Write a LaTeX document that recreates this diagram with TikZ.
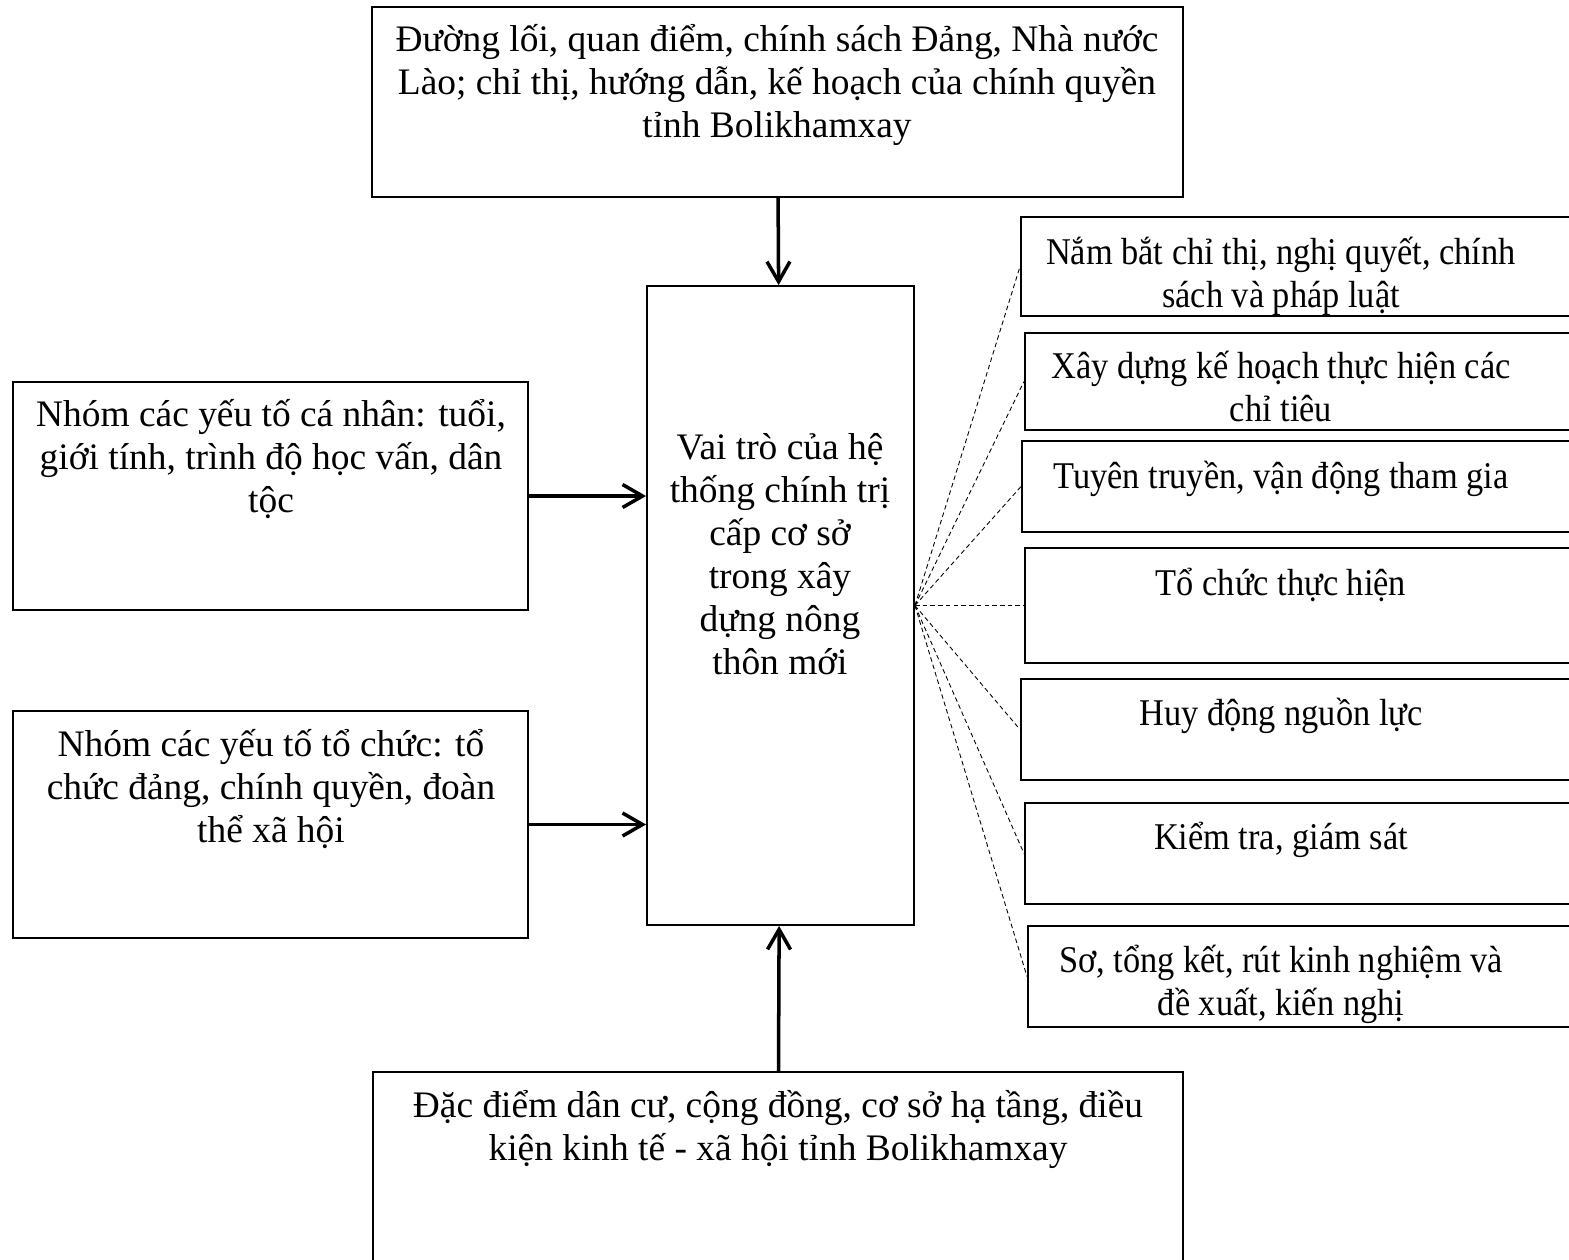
\documentclass[tikz,border=0pt]{standalone}
\usepackage{fontspec}
\setmainfont{Liberation Serif}
\usetikzlibrary{arrows.meta}

\tikzset{
  box/.style={draw, line width=1.1pt, inner sep=0pt},
  txt/.style={align=center, inner sep=0pt, anchor=north, font=\fontsize{21.3}{24.5}\selectfont},
  rtxt/.style={txt, font=\fontsize{21.5}{24.5}\selectfont\addfontfeatures{FakeStretch=0.91}},
  link/.style={line width=0.5pt, dash pattern=on 2.6pt off 1.8pt},
  flow/.style={-{Straight Barb[length=0.4cm,width=0.46cm]}, line width=2pt},
}

\begin{document}
\begin{tikzpicture}[x=0.02cm, y=-0.02cm]

\clip (0,0) rectangle (1569,1259);

% boxes
\node[box, minimum width=16.22cm, minimum height=3.8cm] (P) at (777.5,102) {};
\node[box, minimum width=5.34cm, minimum height=12.78cm] (V) at (780.5,605.5) {};
\node[box, minimum width=10.3cm, minimum height=4.56cm] (N1) at (270.5,496) {};
\node[box, minimum width=10.3cm, minimum height=4.54cm] (N2) at (270.5,824.5) {};
\node[box, minimum width=16.2cm, minimum height=4.56cm] (D) at (778,1186) {};

\node[box, anchor=west, minimum width=11.6cm, minimum height=1.98cm] (R1) at (1020,266.5) {};
\node[box, anchor=west, minimum width=11.6cm, minimum height=1.94cm] (R2) at (1024,381.5) {};
\node[box, anchor=west, minimum width=11.6cm, minimum height=1.82cm] (R3) at (1021,486.5) {};
\node[box, anchor=west, minimum width=11.6cm, minimum height=2.3cm] (R4) at (1024,605.5) {};
\node[box, anchor=west, minimum width=11.6cm, minimum height=2.02cm] (R5) at (1020,729.5) {};
\node[box, anchor=west, minimum width=11.6cm, minimum height=2.02cm] (R6) at (1024,853.5) {};
\node[box, anchor=west, minimum width=11.6cm, minimum height=2.02cm] (R7) at (1027,976.5) {};

% texts
\node[txt] (Pt) at (777,24) {Đường lối, quan điểm, chính sách Đảng, Nhà nước\\Lào; chỉ thị, hướng dẫn, kế hoạch của chính quyền\\tỉnh Bolikhamxay};
\node[txt] (Vt) at (780,433) {Vai trò của hệ\\thống chính trị\\cấp cơ sở\\trong xây\\dựng nông\\thôn mới};
\node[txt] (N1t) at (271,399) {Nhóm các yếu tố cá nhân: tuổi,\\giới tính, trình độ học vấn, dân\\tộc};
\node[txt] (N2t) at (271,729) {Nhóm các yếu tố tổ chức: tổ\\chức đảng, chính quyền, đoàn\\thể xã hội};
\node[txt] (Dt) at (778,1090) {Đặc điểm dân cư, cộng đồng, cơ sở hạ tầng, điều\\kiện kinh tế - xã hội tỉnh Bolikhamxay};

\node[rtxt] (R1t) at (1281,237) {Nắm bắt chỉ thị, nghị quyết, chính\\sách và pháp luật};
\node[rtxt] (R2t) at (1281,351) {Xây dựng kế hoạch thực hiện các\\chỉ tiêu};
\node[rtxt] (R3t) at (1281,461) {Tuyên truyền, vận động tham gia};
\node[rtxt] (R4t) at (1281,568) {Tổ chức thực hiện};
\node[rtxt] (R5t) at (1281,698) {Huy động nguồn lực};
\node[rtxt] (R6t) at (1281,822) {Kiểm tra, giám sát};
\node[rtxt] (R7t) at (1281,945) {Sơ, tổng kết, rút kinh nghiệm và\\đề xuất, kiến nghị};

% arrows
\draw[flow] (P) -- (V);
\draw[flow] (N1.east) -- (V.west |- N1.east);
\draw[flow] (N2.east) -- (V.west |- N2.east);
\draw[flow] (D) -- (V);

% dashed links
\draw[link] (V.east) -- (R1.west);
\draw[link] (V.east) -- (R2.west);
\draw[link] (V.east) -- (R3.west);
\draw[link] (V.east) -- (R4.west);
\draw[link] (V.east) -- (R5.west);
\draw[link] (V.east) -- (R6.west);
\draw[link] (V.east) -- (R7.west);
\end{tikzpicture}
\end{document}
